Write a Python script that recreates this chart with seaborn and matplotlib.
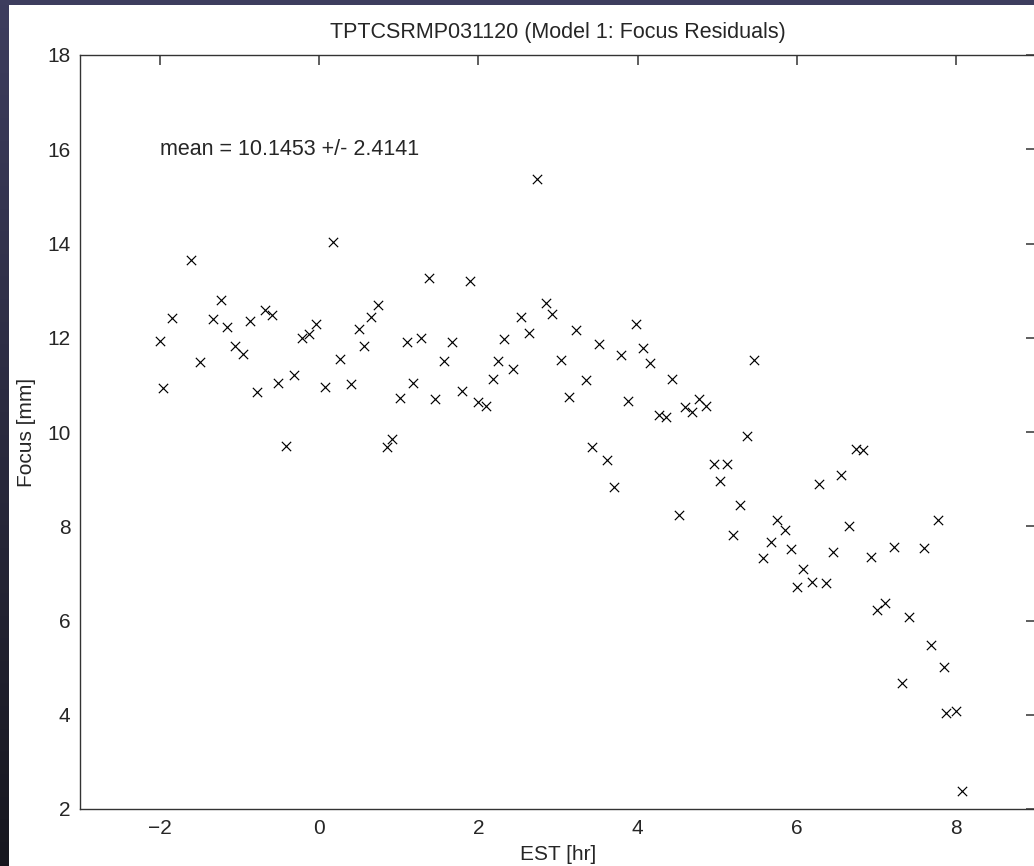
import numpy as np
import pandas as pd
import matplotlib
matplotlib.use("Agg")
import matplotlib.pyplot as plt
import seaborn as sns

# focus residuals
est_hr = [-2.00, -1.955, -1.85, -1.61, -1.49, -1.33, -1.235, -1.15, -1.055, -0.96,
          -0.86, -0.775, -0.68, -0.595, -0.51, -0.415, -0.32, -0.215, -0.13, -0.035,
          0.074, 0.17, 0.266, 0.40, 0.497, 0.57, 0.65, 0.74, 0.85, 0.92,
          1.015, 1.10, 1.18, 1.275, 1.375, 1.46, 1.57, 1.67, 1.79, 1.90,
          2.00, 2.09, 2.18, 2.245, 2.32, 2.44, 2.54, 2.64, 2.74, 2.85,
          2.93, 3.035, 3.14, 3.23, 3.35, 3.43, 3.51, 3.61, 3.70, 3.79,
          3.88, 3.98, 4.07, 4.15, 4.265, 4.35, 4.43, 4.525, 4.595, 4.68,
          4.77, 4.86, 4.96, 5.035, 5.12, 5.20, 5.285, 5.37, 5.46, 5.57,
          5.67, 5.75, 5.85, 5.925, 5.996, 6.08, 6.185, 6.28, 6.37, 6.45,
          6.55, 6.65, 6.745, 6.83, 6.93, 7.00, 7.10, 7.22, 7.32, 7.40,
          7.60, 7.68, 7.77, 7.845, 7.875, 7.99, 8.07]
focus_mm = [11.93, 10.93, 12.42, 13.66, 11.49, 12.39, 12.80, 12.22, 11.83, 11.65,
            12.36, 10.85, 12.59, 12.49, 11.05, 9.70, 11.21, 11.99, 12.07, 12.29,
            10.955, 14.03, 11.54, 11.02, 12.19, 11.83, 12.43, 12.70, 9.675, 9.845,
            10.715, 11.90, 11.03, 11.995, 13.27, 10.69, 11.51, 11.90, 10.86, 13.20,
            10.63, 10.545, 11.12, 11.51, 11.97, 11.33, 12.435, 12.10, 15.37, 12.74,
            12.50, 11.52, 10.74, 12.165, 11.10, 9.69, 11.87, 9.415, 8.84, 11.64,
            10.66, 12.29, 11.79, 11.465, 10.37, 10.32, 11.12, 8.24, 10.525, 10.42,
            10.70, 10.55, 9.32, 8.95, 9.32, 7.815, 8.445, 9.915, 11.52, 7.32,
            7.66, 8.125, 7.93, 7.51, 6.72, 7.10, 6.81, 8.89, 6.79, 7.45,
            9.09, 8.01, 9.64, 9.61, 7.35, 6.22, 6.365, 7.55, 4.67, 6.07,
            7.53, 5.49, 8.13, 5.01, 4.03, 4.09, 2.375]

title = "TPTCSRMP031120 (Model 1: Focus Residuals)"
note = "mean = 10.1453 +/- 2.4141"
x_ticks = [-2, 0, 2, 4, 6, 8]
y_ticks = [2, 4, 6, 8, 10, 12, 14, 16, 18]

df = pd.DataFrame({"EST": est_hr, "Focus": focus_mm})

sns.set_style("white")
plt.rcParams['font.family'] = ['Liberation Sans', 'DejaVu Sans']

W, H = 1034, 866
fig = plt.figure(figsize=(W / 100, H / 100), dpi=100, facecolor="white")

# dark window frame: strip on top, gradient strip on the left
top_col = np.array([0.24, 0.24, 0.37])
bot_col = np.array([0.09, 0.09, 0.12])
t = np.linspace(0, 1, H)[:, None, None]
left_strip = np.repeat(top_col * (1 - t) + bot_col * t, 9, axis=1)
fig.figimage(left_strip, xo=0, yo=0, origin="upper")
top_strip = np.tile(top_col, (5, W, 1))
fig.figimage(top_strip, xo=0, yo=H - 5, origin="upper")

ax = fig.add_axes([80 / W, (H - 809) / H, 956 / W, 754 / H])
sns.scatterplot(data=df, x="EST", y="Focus", marker="x", color="black",
                s=45, linewidth=0.85, ax=ax, legend=False)

ax.set_xlim(-3, 9)
ax.set_ylim(2, 18)
ax.set_xticks(x_ticks)
ax.set_yticks(y_ticks)
ax.tick_params(direction="in", length=7, width=1.1, color="#333333",
               labelsize=15, pad=7, top=True, right=True)
for sp in ax.spines.values():
    sp.set_color("#333333")
    sp.set_linewidth(1.0)

ax.set_xlabel("EST [hr]", fontsize=15, labelpad=5)
ax.set_ylabel("Focus [mm]", fontsize=15, labelpad=8)
ax.set_title(title, fontsize=15.5, pad=12)
ax.text(-2, 16, note, fontsize=15.5, ha="left", va="center")

fig.savefig("out.png", dpi=100, facecolor=fig.get_facecolor())
